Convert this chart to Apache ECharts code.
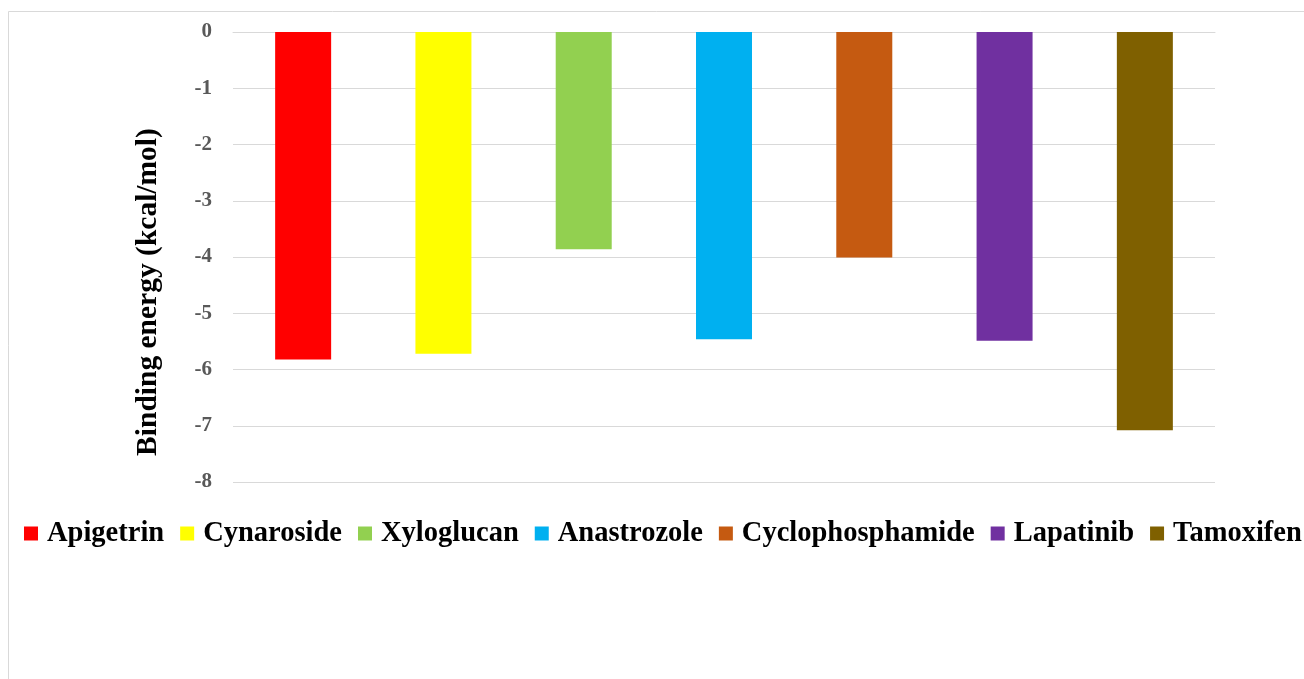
<!DOCTYPE html>
<html>
<head>
<meta charset="utf-8">
<style>
  html, body { margin: 0; padding: 0; background: #ffffff; }
  #chart { width: 1304px; height: 679px; }
</style>
<script src="https://cdn.jsdelivr.net/npm/echarts@6/dist/echarts.min.js"></script>
</head>
<body>
<div id="chart"></div>
<script>
// Docking binding energies (kcal/mol) for each compound
const compounds = ['Apigetrin', 'Cynaroside', 'Xyloglucan', 'Anastrozole', 'Cyclophosphamide', 'Lapatinib', 'Tamoxifen'];
const bindingEnergy = [-5.82, -5.72, -3.86, -5.46, -4.01, -5.49, -7.08];
const barColors = ['#FF0000', '#FFFF00', '#92D050', '#00B0F0', '#C55A11', '#7030A0', '#7F6000'];
const yTicks = [0, -1, -2, -3, -4, -5, -6, -7, -8];

const serif = '"Liberation Serif", "Times New Roman", serif';

// One series per compound so that each gets its own legend entry;
// stacking keeps every bar centred in its own category slot.
const series = compounds.map((name, i) => ({
  name: name,
  type: 'bar',
  stack: 'energy',
  barWidth: 56,
  itemStyle: { color: barColors[i] },
  data: compounds.map((c, j) => (j === i ? bindingEnergy[i] : null))
}));

const chart = echarts.init(document.getElementById('chart'), null, { renderer: 'canvas' });
chart.setOption({
  animation: false,
  backgroundColor: '#ffffff',
  color: barColors,
  grid: { left: 233, right: 89, top: 32, bottom: 197, containLabel: false },
  xAxis: {
    type: 'category',
    data: compounds,
    position: 'top',
    axisLine: { show: true, lineStyle: { color: '#d9d9d9', width: 1 } },
    axisTick: { show: false },
    axisLabel: { show: false },
    splitLine: { show: false }
  },
  yAxis: {
    type: 'value',
    min: yTicks[yTicks.length - 1],
    max: yTicks[0],
    interval: 1,
    axisLine: { show: false },
    axisTick: { show: false },
    axisLabel: {
      margin: 21,
      color: '#595959',
      fontFamily: serif,
      fontWeight: 'bold',
      fontSize: 21
    },
    splitLine: { show: true, lineStyle: { color: '#d9d9d9', width: 1 } }
  },
  legend: {
    data: compounds,
    left: 19,
    top: 514,
    width: 1400,
    icon: 'rect',
    itemWidth: 14,
    itemHeight: 14,
    itemGap: 16,
    textStyle: {
      color: '#000000',
      fontFamily: serif,
      fontWeight: 'bold',
      fontSize: 28.5,
      padding: [0, 0, 0, 4]
    }
  },
  graphic: [
    {
      type: 'rect',
      silent: true,
      z: -10,
      shape: { x: 8.5, y: 11.5, width: 1400, height: 800 },
      style: { fill: 'none', stroke: '#d9d9d9', lineWidth: 1 }
    },
    {
      type: 'text',
      silent: true,
      x: 148,
      y: 292,
      rotation: Math.PI / 2,
      style: {
        text: 'Binding energy (kcal/mol)',
        fill: '#000000',
        font: 'bold 29.5px ' + serif,
        align: 'center',
        verticalAlign: 'middle'
      }
    }
  ],
  series: series
});
</script>
</body>
</html>
